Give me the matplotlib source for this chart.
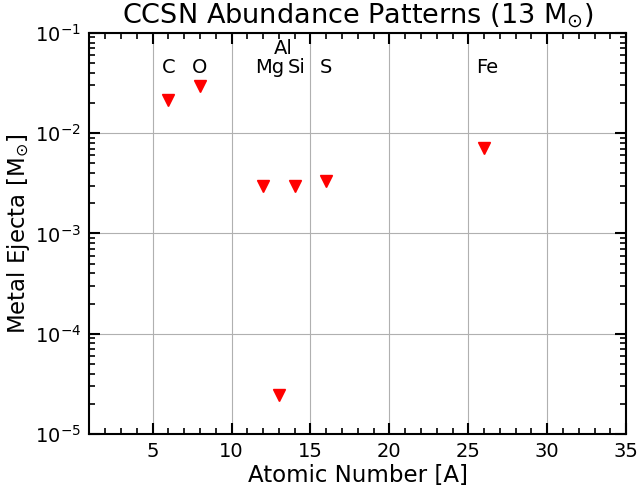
import numpy as np
import matplotlib
matplotlib.use("Agg")
import matplotlib.pyplot as plt
from matplotlib.ticker import MultipleLocator, LogLocator

# element data
elements = ["C", "O", "Mg", "Al", "Si", "S", "Fe"]
atomic_numbers = [6, 8, 12, 13, 14, 16, 26]
ejecta = [0.0213, 0.0295, 0.00295, 2.45e-5, 0.00298, 0.0033, 0.0071]
label_x = [6.0, 8.0, 12.4, 13.3, 14.1, 16.0, 26.2]
label_y = [0.045, 0.045, 0.045, 0.07, 0.045, 0.045, 0.045]

fig, ax = plt.subplots(figsize=(6.39, 4.91), dpi=100)

ax.plot(atomic_numbers, ejecta, linestyle="none", marker="v",
        color="red", markersize=9)

for name, xl, yl in zip(elements, label_x, label_y):
    ax.text(xl, yl, name, ha="center", va="center", fontsize=14)

ax.set_yscale("log")
ax.set_xlim(1, 35)
ax.set_ylim(1e-5, 1e-1)

ax.xaxis.set_major_locator(MultipleLocator(5))
ax.xaxis.set_minor_locator(MultipleLocator(1))
ax.yaxis.set_minor_locator(LogLocator(base=10, subs=np.arange(2, 10)))

ax.tick_params(which="both", direction="in", top=True, right=True, width=1.5)
ax.tick_params(which="major", length=8, labelsize=14, pad=6)
ax.tick_params(which="minor", length=4, width=1.2)
for sp in ax.spines.values():
    sp.set_linewidth(1.5)

ax.grid(True, which="major", color="#b0b0b0", linewidth=0.8)

ax.set_xlabel("Atomic Number [A]", fontsize=16.5, labelpad=2)
ax.set_ylabel(r"Metal Ejecta [M$_{\odot}$]", fontsize=16.5, labelpad=2)
ax.set_title(r"CCSN Abundance Patterns (13 M$_{\odot}$)", fontsize=19.5)

fig.subplots_adjust(left=0.14, right=0.98, bottom=0.116, top=0.933)
fig.savefig("out.png", dpi=100)
